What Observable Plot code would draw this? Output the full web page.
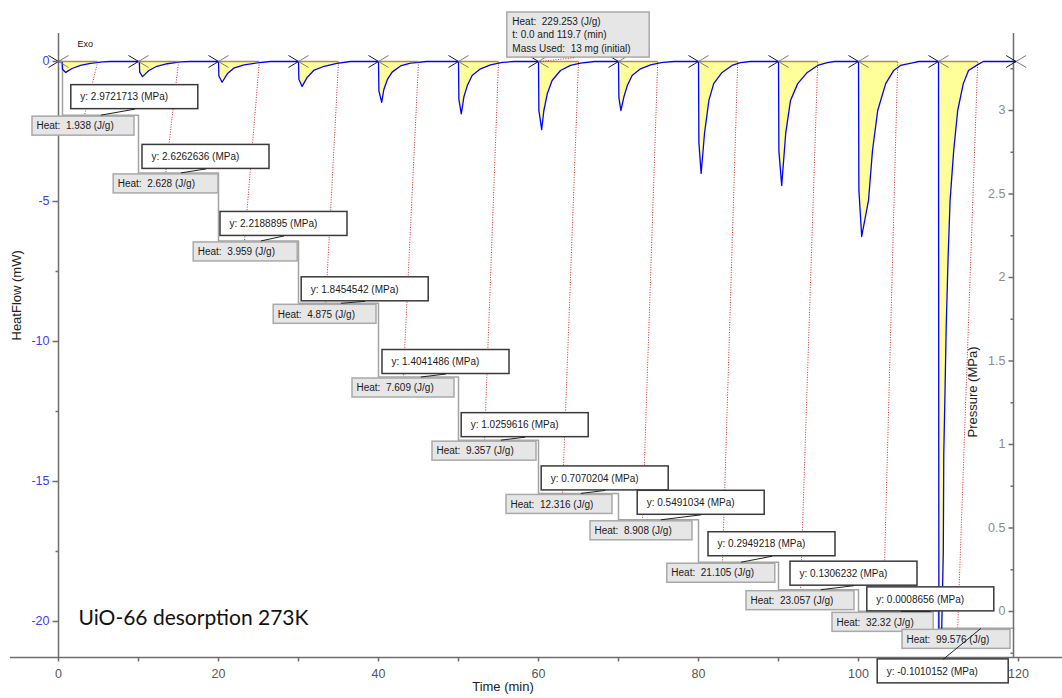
<!DOCTYPE html>
<html><head><meta charset="utf-8">
<script src="https://cdn.jsdelivr.net/npm/d3@7"></script>
<script src="https://cdn.jsdelivr.net/npm/@observablehq/plot@0.6"></script>
<style>
html,body{margin:0;padding:0;background:#fff;}
#chart{width:1062px;height:698px;overflow:hidden;}
svg text{white-space:pre;}
</style></head><body><div id="chart"></div>
<script>
// ---------------- DATA ----------------
const doseTimes = [0, 10, 20, 30, 40, 50, 60, 70, 80, 90, 100, 110];          // min, X markers
const endMarkTime = 119.7;
const pressureStepTimes = [0.5, 10, 20, 30, 40, 50, 60, 70, 80, 90, 100, 110];
const pressureStart = 3.29;                                                     // MPa
const pressureEndTime = 119.4;
const pressureMPa = [2.9721713, 2.6262636, 2.2188895, 1.8454542, 1.4041486, 1.0259616,
                     0.7070204, 0.5491034, 0.2949218, 0.1306232, 0.0008656, -0.1010152];
const pressureLabels = ["2.9721713", "2.6262636", "2.2188895", "1.8454542", "1.4041486", "1.0259616",
                        "0.7070204", "0.5491034", "0.2949218", "0.1306232", "0.0008656", "-0.1010152"];
const heatLabels = ["1.938", "2.628", "3.959", "4.875", "7.609", "9.357",
                    "12.316", "8.908", "21.105", "23.057", "32.32", "99.576"];
const integrationEnd = [4.9, 15, 25.1, 35, 45, 55, 65, 74.9, 84.9, 94.9, 104.9, 114.9];   // min
const pressureLineEnd = [3.25, 13.4, 23.25, 33.4, 43.1, 53.25, 63, 73, 83, 92.75, 103.1, 112.4]; // min
const totalHeatLines = ["Heat:  229.253 (J/g)", "t: 0.0 and 119.7 (min)", "Mass Used:  13 mg (initial)"];
// heat flow curve [time (min), HeatFlow (mW)]
const heatFlowCurve = [
 [0,0],[0.45,0],[0.5,-0.28],[0.9,-0.39],[1.7,-0.25],[2.75,-0.14],[4.0,-0.07],[5.5,-0.01],[6.5,0],
 [10,0],[10.1,0],[10.15,-0.38],[10.5,-0.54],[11.3,-0.32],[12.3,-0.17],[13.6,-0.08],[15.2,-0.01],[16.5,0],
 [20,0],[20.05,-0.52],[20.45,-0.74],[21.1,-0.44],[21.9,-0.24],[23.2,-0.12],[24.8,-0.05],[26.5,0],
 [30,0],[30.05,-0.63],[30.45,-0.89],[31.1,-0.56],[31.9,-0.32],[33.2,-0.17],[34.8,-0.07],[36.5,0],
 [40,0],[40.05,-1.05],[40.4,-1.46],[40.67,-1.0],[41.1,-0.65],[41.7,-0.38],[42.75,-0.16],[44,-0.06],[46,0],
 [50,0],[50.05,-1.35],[50.35,-1.87],[50.67,-1.27],[51.1,-0.86],[51.7,-0.5],[52.75,-0.26],[54,-0.12],[55.5,-0.03],[57,0],
 [60,0],[60.05,-1.75],[60.4,-2.43],[60.67,-1.75],[61.1,-1.15],[61.7,-0.68],[62.75,-0.32],[64,-0.14],[65.25,-0.06],[67,0],
 [70,0],[70.05,-1.3],[70.3,-1.75],[70.67,-1.27],[71.1,-0.86],[71.7,-0.5],[72.75,-0.26],[74,-0.12],[75.5,-0.03],[77,0],
 [80,0],[80.05,-2.9],[80.33,-4.0],[80.75,-2.57],[81.3,-1.39],[81.9,-0.79],[82.95,-0.39],[84.2,-0.14],[85.25,-0.04],[86.5,0],
 [90,0],[90.05,-3.2],[90.4,-4.43],[90.9,-2.57],[91.5,-1.39],[92.4,-0.79],[93.6,-0.39],[94.9,-0.14],[96.1,-0.04],[97,0],
 [100,0],[100.05,-4.6],[100.4,-6.25],[101.25,-4.96],[101.75,-3.18],[102.4,-1.75],[103.4,-0.79],[104.4,-0.32],[105.25,-0.14],[106.9,-0.04],[107.5,0],
 [110,0],[110.05,-20.3],[110.4,-20.3],[110.6,-17.5],[110.66,-14],[110.8,-12],[110.96,-9.5],[111.2,-7],[111.45,-4.96],[111.9,-3.18],[112.4,-1.75],[113.1,-0.79],[113.75,-0.32],[114.9,-0.11],[115.6,0],
 [119.7,0]
];
// tick values
const timeTicks = [0, 10, 20, 30, 40, 50, 60, 70, 80, 90, 100, 110, 120];
const timeLabels = [0, 20, 40, 60, 80, 100, 120];
const heatTicksMajor = [0, -5, -10, -15, -20];
const heatTicksMinor = [-2.5, -7.5, -12.5, -17.5];
const pressureTicksMajor = [0, 0.5, 1, 1.5, 2, 2.5, 3];
const pressureTicksMinor = [-0.25, 0.25, 0.75, 1.25, 1.75, 2.25, 2.75, 3.25];
// pressure axis alignment: pressure 0 and 3 MPa against HeatFlow (mW)
const pressureAxisAnchors = [[0, -19.643], [3, -1.75]];

// ---------------- LAYOUT (annotation placement) ----------------
const W = 1062, H = 698, ML = 58, MR = 49, MT = 33, MB = 41;
const xDom = [0, 119.375], yDom = [-21.286, 1.0];
const xAxisExtent = [-6, 125.5];
const heatBoxLeft  = [-3.25, 6.9, 16.9, 26.9, 36.75, 46.75, 56, 66.5, 76.1, 86, 96.75, 105.5];
const heatBoxRight = [9.5, 20, 29.9, 39.75, 49.5, 59.75, 69.25, 79.25, 89.6, 99.5, 109.4, 119];
const pressBoxLeft = [1.6, 10.5, 20.25, 30.4, 40.5, 50.4, 60.4, 72.4, 81.25, 91.5, 101.1, 102.4];
const pressBoxLift = [6, 4, 5, 2, 3, 3, 3, 5, 6, 4, 0, -55];   // px above pressure level
const pressBoxWidth = [127, 127, 127, 127, 127, 127, 127, 127, 127, 127, 127, 131];
const summaryBox = {x1: 56.1, x2: 73.9, y1: 0.14, y2: 1.75};
const summaryLeader = {x1: 60.25, y1: 0, x2: 64.6, y2: 0.14};

// ---------------- BUILD ----------------
const kx = (W - ML - MR) / (xDom[1] - xDom[0]);
const ky = (H - MT - MB) / (yDom[1] - yDom[0]);
const pxT = px => px / kx, pxY = px => px / ky;
const pToY = d3.scaleLinear(pressureAxisAnchors.map(d => d[0]), pressureAxisAnchors.map(d => d[1]));
const idx = d3.range(pressureMPa.length);

const stepData = [{t: pressureStepTimes[0], p: pressureStart}]
  .concat(idx.map(i => ({t: pressureStepTimes[i], p: pressureMPa[i]})))
  .concat([{t: pressureEndTime, p: pressureMPa[pressureMPa.length - 1]}]);

const sym = f => ({draw(ctx) { f(ctx); }});
const vTick = len => sym(c => { c.moveTo(0, 0); c.lineTo(0, len); });
const hTick = len => sym(c => { c.moveTo(0, 0); c.lineTo(len, 0); });
const xLeft = sym(c => { c.moveTo(-10, -6); c.lineTo(0, 0); c.lineTo(-10, 6); });
const xRight = sym(c => { c.moveTo(10, -6); c.lineTo(0, 0); c.lineTo(10, 6); });

const lvl = i => pToY(pressureMPa[i]);
const hTop = i => lvl(i) - pxY(1.5);
const hBot = i => hTop(i) - pxY(19);
const pBot = i => lvl(i) + pxY(pressBoxLift[i]);
const pTop = i => pBot(i) + pxY(24);
const pMidX = i => pressBoxLeft[i] + pxT(pressBoxWidth[i] / 2);

const font = "Liberation Sans, Arial, sans-serif";
const axisGrey = "#6e6e6e";

const chart = Plot.plot({
  width: W, height: H,
  marginLeft: ML, marginRight: MR, marginTop: MT, marginBottom: MB,
  x: {domain: xDom, axis: null},
  y: {domain: yDom, axis: null},
  style: {fontFamily: font, background: "#fff", overflow: "visible"},
  marks: [
    // heat curve fill
    Plot.areaY(heatFlowCurve, {x: d => d[0], y: d => d[1], fill: "#ffff99"}),
    // red dotted pressure traces
    Plot.link(idx, {x1: i => integrationEnd[i], y1: () => pToY(pressureStart),
      x2: i => pressureLineEnd[i], y2: i => pToY(pressureMPa[i]),
      stroke: "#d42a2a", strokeWidth: 1, strokeDasharray: "1,1.5"}),
    // grey pressure staircase
    Plot.line(stepData, {x: "t", y: d => pToY(d.p), curve: "step-after", stroke: "#a4a4a4", strokeWidth: 1.5}),
    // axes lines
    Plot.ruleX([xDom[0]], {y1: yDom[0], y2: yDom[1], stroke: axisGrey, strokeWidth: 1.5}),
    Plot.ruleX([xDom[1]], {y1: yDom[0], y2: yDom[1], stroke: axisGrey, strokeWidth: 1.5}),
    Plot.ruleY([yDom[0]], {x1: xAxisExtent[0], x2: xAxisExtent[1], stroke: axisGrey, strokeWidth: 1.5}),
    // heat flow curve
    Plot.line(heatFlowCurve, {x: d => d[0], y: d => d[1], stroke: "#0000ff", strokeWidth: 1.3}),
    // integration baselines
    Plot.link(idx, {x1: i => doseTimes[i], x2: i => integrationEnd[i], y1: () => 0, y2: () => 0,
      stroke: "#b08a50", strokeWidth: 1.5}),
    // X markers
    Plot.dot([...doseTimes, endMarkTime], {x: d => d, y: () => 0, symbol: xLeft, fill: "none", stroke: "#1a1a1a", strokeWidth: 1}),
    Plot.dot([...doseTimes, endMarkTime], {x: d => d, y: () => 0, symbol: xRight, fill: "none", stroke: "#7a7a7a", strokeWidth: 1}),
    // bottom axis ticks & labels
    Plot.dot(timeTicks, {x: d => d, y: () => yDom[0], symbol: vTick(4), fill: "none", stroke: axisGrey}),
    Plot.text(timeLabels, {x: d => d, y: () => yDom[0], dy: 16, text: d => String(d), fill: "#555", fontSize: 12.5}),
    // left axis
    Plot.dot(heatTicksMajor, {x: () => xDom[0], y: d => d, symbol: hTick(-6), fill: "none", stroke: axisGrey}),
    Plot.dot(heatTicksMinor, {x: () => xDom[0], y: d => d, symbol: hTick(-3), fill: "none", stroke: axisGrey}),
    Plot.text(heatTicksMajor, {x: () => xDom[0], y: d => d, dx: -9, textAnchor: "end", text: d => String(d), fill: "#3c3cf2", fontSize: 12.5}),
    // right axis
    Plot.dot(pressureTicksMajor, {x: () => xDom[1], y: d => pToY(d), symbol: hTick(-5), fill: "none", stroke: axisGrey}),
    Plot.dot(pressureTicksMinor, {x: () => xDom[1], y: d => pToY(d), symbol: hTick(-3), fill: "none", stroke: axisGrey}),
    Plot.text(pressureTicksMajor, {x: () => xDom[1], y: d => pToY(d), dx: -8, textAnchor: "end", text: d => String(d), fill: "#8c8c8c", fontSize: 12.5}),
    // heat boxes
    Plot.rect(idx, {x1: i => heatBoxLeft[i], x2: i => heatBoxRight[i], y1: hBot, y2: hTop,
      fill: "#e6e6e6", stroke: "#a9a9a9", strokeWidth: 1.5}),
    Plot.text(idx, {x: i => heatBoxLeft[i], y: i => (hTop(i) + hBot(i)) / 2, dx: 4, textAnchor: "start",
      text: i => "Heat:  " + heatLabels[i] + " (J/g)", fontSize: 10, fill: "#1a1a1a"}),
    // pressure boxes
    Plot.rect(idx, {x1: i => pressBoxLeft[i], x2: i => pressBoxLeft[i] + pxT(pressBoxWidth[i]), y1: pBot, y2: pTop,
      fill: "#fff", stroke: "#3a3a3a", strokeWidth: 1.5}),
    Plot.text(idx, {x: i => pressBoxLeft[i], y: i => (pTop(i) + pBot(i)) / 2, dx: 9, textAnchor: "start",
      text: i => "y: " + pressureLabels[i] + " (MPa)", fontSize: 10, fill: "#1a1a1a"}),
    // leaders from pressure steps to boxes
    Plot.link(idx, {x1: i => doseTimes[i] + 5.3, y1: i => lvl(i), x2: pMidX,
      y2: i => pressBoxLift[i] >= 0 ? pBot(i) : pTop(i), stroke: "#222", strokeWidth: 1}),
    // summary box
    Plot.rect([summaryBox], {x1: "x1", x2: "x2", y1: "y1", y2: "y2", fill: "#e6e6e6", stroke: "#a9a9a9", strokeWidth: 1.5}),
    Plot.text(totalHeatLines, {x: () => summaryBox.x1, y: (d, i) => summaryBox.y2 - pxY(9 + i * 13.5), dx: 5,
      textAnchor: "start", text: d => d, fontSize: 10, fill: "#1a1a1a"}),
    Plot.link([summaryLeader], {x1: "x1", y1: "y1", x2: "x2", y2: "y2", stroke: "#d42a2a", strokeDasharray: "1,1.5"}),
    // texts
    Plot.text(["Exo"], {frameAnchor: "top-left", dx: 19, dy: 7.5, textAnchor: "start", fontSize: 9, fill: "#111"}),
    Plot.text(["UiO-66 desorption 273K"], {frameAnchor: "bottom-left", dx: 20, dy: -33, textAnchor: "start",
      fontSize: 21, fontFamily: "Lato, Open Sans, sans-serif", fill: "#111"}),
    Plot.text(["HeatFlow (mW)"], {frameAnchor: "left", dx: -42, dy: -5, rotate: -90, fontSize: 13, fill: "#222"}),
    Plot.text(["Pressure (MPa)"], {frameAnchor: "right", dx: -41, dy: 1, rotate: -90, fontSize: 13, fill: "#222"}),
    Plot.text(["Time (min)"], {frameAnchor: "bottom", dx: -33, dy: 33, fontSize: 13, fill: "#222"})
  ]
});
document.getElementById("chart").appendChild(chart);
</script>
</body></html>
